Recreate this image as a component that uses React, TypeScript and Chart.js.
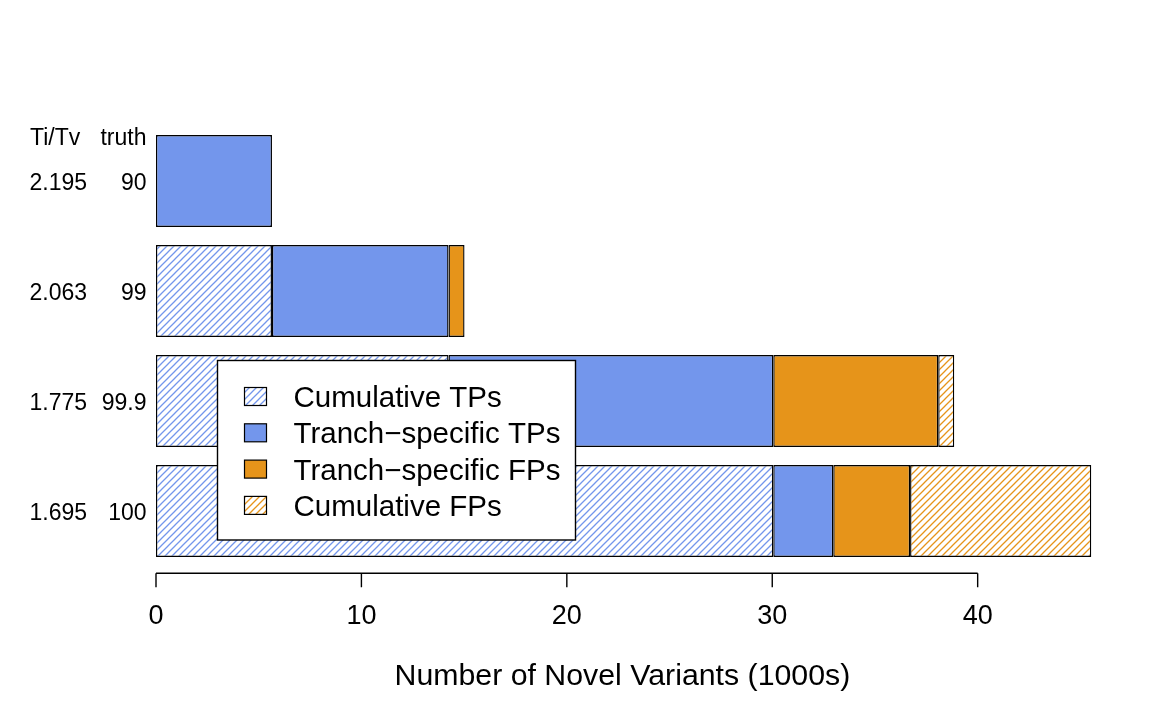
import React, { useEffect, useRef } from "react";
import { Chart, registerables } from "chart.js";

Chart.register(...registerables);

// ---- data ----
const tiTv = ["2.195", "2.063", "1.775", "1.695"];
const truth = ["90", "99", "99.9", "100"];
const cumulativeTPs = [null, 5.645, 14.24, 30.05];
const tranchSpecificTPs = [5.645, 8.595, 15.81, 2.92];
const tranchSpecificFPs = [null, 0.78, 8.03, 3.74];
const cumulativeFPs = [null, null, 0.78, 8.82];
const legendLabels = ["Cumulative TPs", "Tranch\u2212specific TPs", "Tranch\u2212specific FPs", "Cumulative FPs"];
const xTicks = [0, 10, 20, 30, 40];
const headerLeft = "Ti/Tv";
const headerRight = "truth";
const xTitle = "Number of Novel Variants (1000s)";

const BLUE = "rgb(115,150,236)";
const ORANGE = "rgb(230,148,26)";
const FONT = '"Liberation Sans", Arial, Helvetica, sans-serif';

function makeHatch(ctx: CanvasRenderingContext2D, color: string): CanvasPattern {
  const s = 7;
  const c = document.createElement("canvas");
  c.width = s;
  c.height = s;
  const g = c.getContext("2d")!;
  g.fillStyle = "#fff";
  g.fillRect(0, 0, s, s);
  g.strokeStyle = color;
  g.lineWidth = 1.3;
  g.beginPath();
  g.moveTo(0, s);
  g.lineTo(s, 0);
  g.moveTo(-1, 1);
  g.lineTo(1, -1);
  g.moveTo(s - 1, s + 1);
  g.lineTo(s + 1, s - 1);
  g.stroke();
  return ctx.createPattern(c, "repeat")!;
}

export default function App() {
  const ref = useRef<HTMLCanvasElement | null>(null);

  useEffect(() => {
    const canvas = ref.current!;
    const ctx0 = canvas.getContext("2d")!;
    const blueHatch = makeHatch(ctx0, BLUE);
    const orangeHatch = makeHatch(ctx0, ORANGE);
    const fills: (string | CanvasPattern)[] = [blueHatch, BLUE, ORANGE, orangeHatch];
    const series = [cumulativeTPs, tranchSpecificTPs, tranchSpecificFPs, cumulativeFPs];

    const decor = {
      id: "decor",
      afterDatasetsDraw(chart: any) {
        const ctx: CanvasRenderingContext2D = chart.ctx;
        const xs = chart.scales.x;
        const ys = chart.scales.y;
        ctx.save();

        // Legend box
        const lx = 217.5, ly = 360.5, lw = 358, lh = 179.5;
        ctx.fillStyle = "#fff";
        ctx.fillRect(lx, ly, lw, lh);
        ctx.strokeStyle = "#000";
        ctx.lineWidth = 1.4;
        ctx.strokeRect(lx, ly, lw, lh);
        const legFont = 29.5;
        ctx.font = `${legFont}px ${FONT}`;
        ctx.textAlign = "left";
        ctx.textBaseline = "alphabetic";
        legendLabels.forEach((lab, i) => {
          const cy = 396.5 + i * 36.3;
          ctx.fillStyle = fills[i] as any;
          ctx.fillRect(244.5, cy - 9, 22, 18);
          ctx.strokeStyle = "#000";
          ctx.lineWidth = 1.2;
          ctx.strokeRect(244.5, cy - 9, 22, 18);
          ctx.fillStyle = "#000";
          ctx.fillText(lab, 293.5, cy + legFont * 0.358);
        });

        // X axis
        const axisY = 573.3;
        ctx.strokeStyle = "#000";
        ctx.lineWidth = 1.4;
        ctx.beginPath();
        ctx.moveTo(xs.getPixelForValue(xTicks[0]), axisY);
        ctx.lineTo(xs.getPixelForValue(xTicks[xTicks.length - 1]), axisY);
        xTicks.forEach((t) => {
          const px = xs.getPixelForValue(t);
          ctx.moveTo(px, axisY);
          ctx.lineTo(px, axisY + 14);
        });
        ctx.stroke();
        ctx.fillStyle = "#000";
        ctx.font = `27px ${FONT}`;
        ctx.textAlign = "center";
        xTicks.forEach((t) => {
          ctx.fillText(String(t), xs.getPixelForValue(t), 624.3);
        });
        ctx.font = `30.3px ${FONT}`;
        ctx.fillText(xTitle, 622.4, 685);

        // Left labels
        ctx.font = `23px ${FONT}`;
        const y0 = ys.getPixelForValue(0);
        ctx.textAlign = "left";
        ctx.fillText(headerLeft, 30, y0 + 9.2 - 45);
        ctx.textAlign = "right";
        ctx.fillText(headerRight, 146.5, y0 + 9.2 - 45);
        tiTv.forEach((v, i) => {
          const cy = ys.getPixelForValue(i);
          ctx.textAlign = "left";
          ctx.fillText(v, 29.5, cy + 9.2);
          ctx.textAlign = "right";
          ctx.fillText(truth[i], 146.5, cy + 9.2);
        });

        ctx.restore();
      },
    };

    const chart = new Chart(canvas, {
      type: "bar",
      data: {
        labels: tiTv.map((t, i) => `${t} ${truth[i]}`),
        datasets: series.map((d, i) => ({
          label: legendLabels[i],
          data: d as any,
          backgroundColor: fills[i] as any,
          borderColor: "#000",
          borderWidth: 1.4,
          borderSkipped: false,
          barPercentage: 0.836,
          categoryPercentage: 1.0,
          stack: "s",
        })),
      },
      options: {
        indexAxis: "y",
        responsive: true,
        maintainAspectRatio: false,
        animation: false,
        layout: { padding: { left: 156, right: 10, top: 126, bottom: 154 } },
        scales: {
          x: { type: "linear", min: 0, max: 48, stacked: true, display: false },
          y: { type: "category", stacked: true, display: false },
        },
        plugins: {
          legend: { display: false },
          tooltip: { enabled: false },
        },
      },
      plugins: [decor],
    });
    return () => chart.destroy();
  }, []);

  return (
    <div style={{ position: "fixed", left: 0, top: 0, width: 1152, height: 720, background: "#fff" }}>
      <canvas ref={ref} />
    </div>
  );
}
